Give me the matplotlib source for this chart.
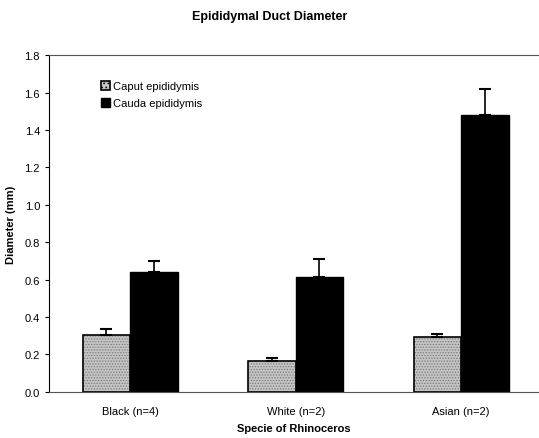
import numpy as np
import matplotlib.pyplot as plt
from matplotlib.patches import Patch

species = ['Black (n=4)', 'White (n=2)', 'Asian (n=2)']
caput = [0.305, 0.165, 0.295]
caput_err = [0.03, 0.015, 0.015]
cauda = [0.64, 0.615, 1.48]
cauda_err = [0.06, 0.095, 0.14]

plt.rcParams['font.family'] = ['Liberation Sans', 'DejaVu Sans']
plt.rcParams['hatch.linewidth'] = 0.6

fig = plt.figure(figsize=(5.39, 4.39), dpi=100)
ax = fig.add_axes([0.091, 0.105, 0.909, 0.767])

x = np.arange(len(species))
w = 0.287
err_kw = dict(ecolor='black', capsize=4, elinewidth=1.2, capthick=1.5)
# stippled fill for caput, then a black outline on top
ax.bar(x - w/2, caput, w, color='#c4c4c4', edgecolor='#7a7a7a', linewidth=0,
       hatch='......')
ax.bar(x - w/2, caput, w, yerr=[np.zeros(3), caput_err], fill=False,
       edgecolor='black', linewidth=1.2, error_kw=err_kw)
ax.bar(x + w/2, cauda, w, yerr=[np.zeros(3), cauda_err], color='black',
       edgecolor='black', linewidth=1.0, error_kw=err_kw)

handles = [Patch(facecolor='#c4c4c4', edgecolor='black', hatch='....',
                 linewidth=1.2, label='Caput epididymis'),
           Patch(facecolor='black', edgecolor='black', label='Cauda epididymis')]

ax.set_xlim(-0.49, 2.47)
ax.set_ylim(0, 1.8)
ax.set_yticks(np.arange(0, 1.81, 0.2))
ax.set_yticklabels(['%.1f' % v for v in np.arange(0, 1.81, 0.2)], fontsize=8)
ax.set_xticks(x)
ax.set_xticklabels(species, fontsize=8)
ax.tick_params(axis='x', length=0, pad=10)
ax.tick_params(axis='y', direction='out', length=3)

ax.spines['right'].set_visible(False)
ax.spines['top'].set_linestyle((0, (4, 1)))
ax.spines['top'].set_color('#555555')
ax.spines['bottom'].set_linestyle((0, (4, 1)))
ax.spines['bottom'].set_color('#555555')

ax.set_ylabel('Diameter (mm)', fontsize=8, fontweight='bold', labelpad=6)
ax.set_xlabel('Specie of Rhinoceros', fontsize=8, fontweight='bold', labelpad=5)
fig.suptitle('Epididymal Duct Diameter', fontsize=9, fontweight='bold', y=0.975)

ax.legend(handles=handles, loc='upper left', bbox_to_anchor=(0.085, 0.952),
          frameon=False, fontsize=8, handlelength=0.8, handleheight=0.8,
          handletextpad=0.3, labelspacing=0.6)

fig.savefig('out.png', dpi=100)
